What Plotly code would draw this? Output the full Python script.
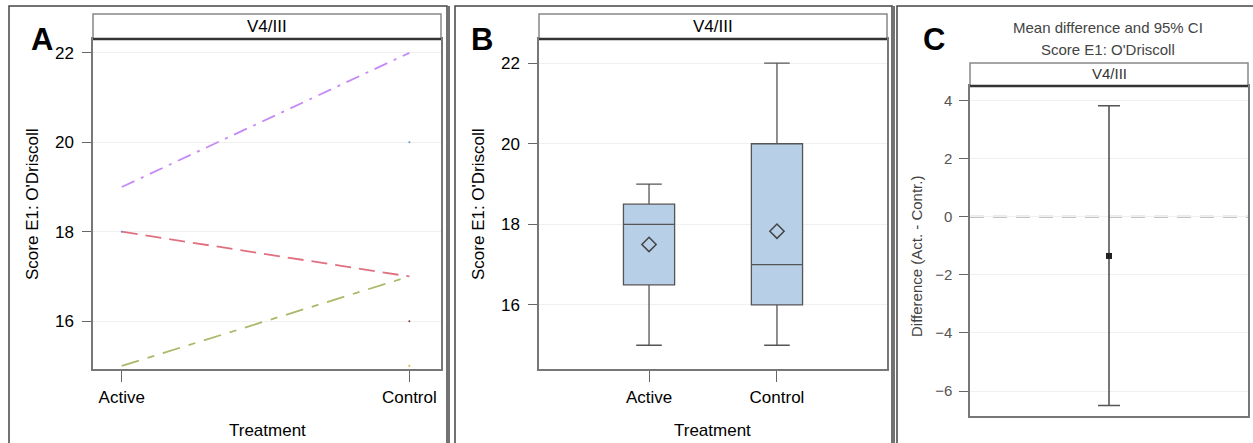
import plotly.graph_objects as go

# ---------------- data ----------------
treatments = ["Active", "Control"]
panel_header = "V4/III"

# Panel A: individual subject trajectories
subj_purple = [19, 22]
subj_red = [18, 17]
subj_green = [15, 17]
single_x = ["Active", "Control", "Control", "Control"]
single_y = [18, 20, 16, 15]
single_colors = ["#6a8fd8", "#6a8fd8", "#8a3030", "#f0a030"]

# Panel B: box statistics
box_q1 = [16.5, 16]
box_median = [18, 17]
box_q3 = [18.5, 20]
box_low = [15, 15]
box_high = [19, 22]
box_mean = [17.5, 17.83]

# Panel C: mean difference and 95% CI
diff_mean = -1.35
ci_low = -6.5
ci_high = 3.82

W, H = 1253, 443
FONT = "Liberation Sans, Arial, sans-serif"


def px(x):
    return x / W


def py(y):
    return 1 - y / H


fig = go.Figure()

# ---- Panel A traces ----
fig.add_trace(go.Scatter(x=treatments, y=subj_purple, mode="lines",
                         line=dict(color="#c58af5", width=1.8, dash="14px,7px,3px,7px"),
                         xaxis="x", yaxis="y", showlegend=False))
fig.add_trace(go.Scatter(x=treatments, y=subj_red, mode="lines",
                         line=dict(color="#e07080", width=1.8, dash="16px,8px"),
                         xaxis="x", yaxis="y", showlegend=False))
fig.add_trace(go.Scatter(x=treatments, y=subj_green, mode="lines",
                         line=dict(color="#a8ba68", width=1.8, dash="18px,9px,7px,9px"),
                         xaxis="x", yaxis="y", showlegend=False))
fig.add_trace(go.Scatter(x=single_x, y=single_y, mode="markers",
                         marker=dict(color=single_colors, size=2),
                         xaxis="x", yaxis="y", showlegend=False))

# ---- Panel B traces ----
fig.add_trace(go.Box(x=treatments, q1=box_q1, median=box_median, q3=box_q3,
                     lowerfence=box_low, upperfence=box_high,
                     fillcolor="#b8cfe8", line=dict(color="#555555", width=1.3),
                     width=0.4, whiskerwidth=0.5, boxpoints=False,
                     xaxis="x2", yaxis="y2", showlegend=False))
fig.add_trace(go.Scatter(x=treatments, y=box_mean, mode="markers",
                         marker=dict(symbol="diamond-open", size=11, color="#444444",
                                     line=dict(width=1.5, color="#444444")),
                         xaxis="x2", yaxis="y2", showlegend=False))

# ---- Panel C traces ----
fig.add_trace(go.Scatter(x=[0], y=[diff_mean], mode="markers",
                         marker=dict(symbol="square", size=6, color="#222222"),
                         error_y=dict(type="data", symmetric=False,
                                      array=[ci_high - diff_mean],
                                      arrayminus=[diff_mean - ci_low],
                                      color="#555555", thickness=1.6, width=11),
                         xaxis="x3", yaxis="y3", showlegend=False))

tickfont = dict(family=FONT, size=17, color="#000000")
common_y = dict(showline=True, linecolor="#777777", linewidth=1.5, mirror=True,
                ticks="outside", ticklen=9, tickcolor="#666666", tickwidth=1.2,
                showgrid=True, gridcolor="#f0f0f0", gridwidth=1, zeroline=False,
                tickfont=tickfont, ticklabelstandoff=5)
common_x = dict(showline=True, linecolor="#777777", linewidth=1.5, mirror=True,
                ticks="outside", ticklen=11, tickcolor="#666666", tickwidth=1.2,
                showgrid=False, zeroline=False, tickfont=tickfont,
                type="category", ticklabelstandoff=1)

fig.update_layout(
    width=W, height=H,
    margin=dict(l=0, r=0, t=0, b=0),
    paper_bgcolor="white", plot_bgcolor="white",
    xaxis=dict(domain=[px(93), px(441)], anchor="y", range=[-0.1, 1.11], **common_x),
    yaxis=dict(domain=[py(369), py(39)], anchor="x", range=[14.93, 22.31],
               tickvals=[16, 18, 20, 22], **common_y),
    xaxis2=dict(domain=[px(539), px(887)], anchor="y2", range=[-0.86, 1.86], **common_x),
    yaxis2=dict(domain=[py(369), py(39)], anchor="x2", range=[14.41, 22.6],
                tickvals=[16, 18, 20, 22], **common_y),
    xaxis3=dict(domain=[px(970), px(1248)], anchor="y3", range=[-1, 1],
                showline=True, linecolor="#777777", linewidth=1.5, mirror=True,
                showticklabels=False, ticks="", showgrid=False, zeroline=False),
    yaxis3=dict(domain=[py(416), py(86)], anchor="x3", range=[-6.86, 4.5],
                tickvals=[-6, -4, -2, 0, 2, 4],
                showline=True, linecolor="#777777", linewidth=1.5, mirror=True,
                ticks="outside", ticklen=9, tickcolor="#666666", tickwidth=1.2,
                showgrid=True, gridcolor="#f0f0f0", zeroline=False,
                tickfont=dict(family=FONT, size=15, color="#555555"),
                ticklabelstandoff=4),
)

shapes = []
frame = dict(color="#444444", width=1.5)
# outer panel frames
shapes.append(dict(type="rect", xref="paper", yref="paper", x0=px(9), x1=px(447),
                   y0=py(450), y1=py(6), line=frame))
shapes.append(dict(type="line", xref="paper", yref="paper", x0=px(449), x1=px(449),
                   y0=py(450), y1=py(6), line=frame))
shapes.append(dict(type="rect", xref="paper", yref="paper", x0=px(455), x1=px(892),
                   y0=py(450), y1=py(6), line=frame))
shapes.append(dict(type="line", xref="paper", yref="paper", x0=px(894), x1=px(894),
                   y0=py(450), y1=py(6), line=frame))
shapes.append(dict(type="rect", xref="paper", yref="paper", x0=px(897), x1=px(1260),
                   y0=py(450), y1=py(6), line=frame))

# header boxes
for (x0, x1, y0, y1) in [(93, 441, 14, 39), (539, 887, 14, 39), (970, 1248, 63, 86)]:
    shapes.append(dict(type="rect", xref="paper", yref="paper", x0=px(x0), x1=px(x1),
                       y0=py(y1), y1=py(y0), line=dict(color="#888888", width=1.5),
                       fillcolor="white"))
    shapes.append(dict(type="line", xref="paper", yref="paper", x0=px(x0), x1=px(x1),
                       y0=py(y1), y1=py(y1), line=dict(color="#333333", width=2.5)))

# zero reference line in panel C
shapes.append(dict(type="line", xref="x3 domain", yref="y3", x0=0, x1=1, y0=0, y1=0,
                   line=dict(color="#b0b0b0", width=2, dash="14px,9px"), layer="below"))

fig.update_layout(shapes=shapes)

ann = []


def add_text(text, x, y, size, color="#111111", angle=0, bold=False):
    ann.append(dict(text=f"<b>{text}</b>" if bold else text, xref="paper", yref="paper",
                    x=px(x), y=py(y), xanchor="center", yanchor="middle",
                    showarrow=False, textangle=angle,
                    font=dict(family=FONT, size=size, color=color)))


# panel letters
add_text("A", 42, 40, 31, "#000000", bold=True)
add_text("B", 482, 40, 31, "#000000", bold=True)
add_text("C", 934, 40, 31, "#000000", bold=True)

# header labels
add_text(panel_header, 267, 27, 17, "#000000")
add_text(panel_header, 713, 27, 17, "#000000")
add_text(panel_header, 1109, 74, 15, "#333333")

# axis titles
add_text("Score E1: O'Driscoll", 32, 204, 17, "#000000", angle=-90)
add_text("Score E1: O'Driscoll", 478, 204, 17, "#000000", angle=-90)
add_text("Treatment", 267, 430, 17, "#000000")
add_text("Treatment", 713, 430, 17, "#000000")
add_text("Difference (Act. - Contr.)", 916, 257, 15, "#444444", angle=-90)

# panel C title
add_text("Mean difference and 95% CI", 1108, 28, 15, "#444444")
add_text("Score E1: O'Driscoll", 1108, 49, 15, "#444444")

fig.update_layout(annotations=ann)

fig.write_html("out.html",
               config={"displayModeBar": False},
               post_script="document.body.style.margin='0';document.body.style.overflow='hidden';")
